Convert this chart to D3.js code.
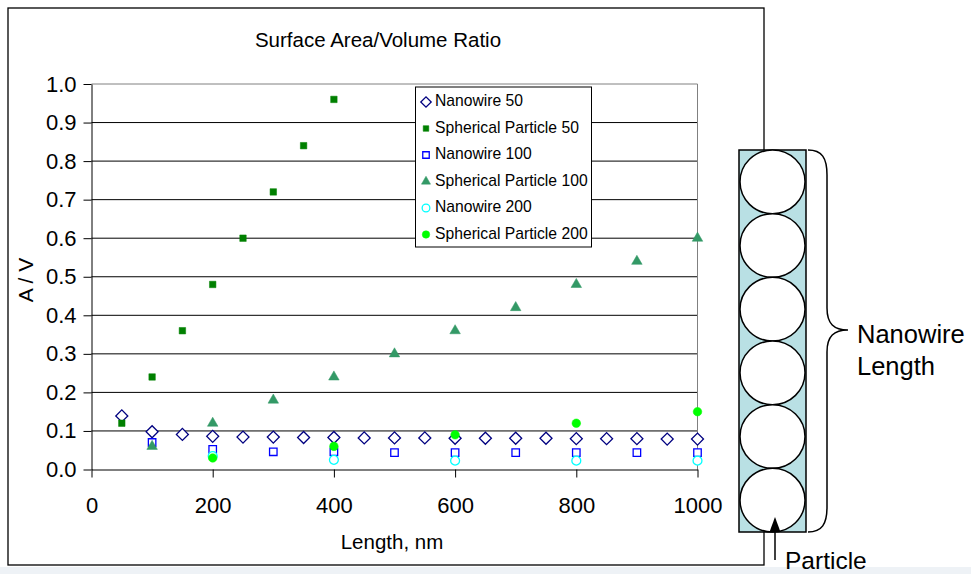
<!DOCTYPE html>
<html><head><meta charset="utf-8">
<script src="https://cdn.jsdelivr.net/npm/d3@7"></script>
<style>body{margin:0;background:#fff}svg{display:block;font-family:"Liberation Sans",Arial,sans-serif}</style>
</head><body>
<svg id="c" width="971" height="574"></svg>
<script>
// ---- data ----
const nw50X = [50,100,150,200,250,300,350,400,450,500,550,600,650,700,750,800,850,900,950,1000];
const nw50Y = [0.139,0.098,0.091,0.086,0.084,0.084,0.083,0.083,0.082,0.082,0.082,0.081,0.081,0.081,0.081,0.080,0.080,0.080,0.079,0.079];
const sp50X = [50,100,150,200,250,300,350,400];
const sp50Y = [0.12,0.24,0.36,0.48,0.60,0.72,0.84,0.96];
const nw100X = [100,200,300,400,500,600,700,800,900,1000];
const nw100Y = [0.070,0.052,0.046,0.046,0.044,0.044,0.044,0.044,0.044,0.044];
const sp100X = [100,200,300,400,500,600,700,800,900,1000];
const sp100Y = [0.06,0.12,0.18,0.24,0.30,0.36,0.42,0.48,0.54,0.60];
const nw200X = [200,400,600,800,1000];
const nw200Y = [0.035,0.025,0.023,0.023,0.023];
const sp200X = [200,400,600,800,1000];
const sp200Y = [0.03,0.06,0.09,0.12,0.15];
const seriesNames = ["Nanowire 50","Spherical Particle 50","Nanowire 100","Spherical Particle 100","Nanowire 200","Spherical Particle 200"];
const xTicks = [0,200,400,600,800,1000];
const yTicks = [0,0.1,0.2,0.3,0.4,0.5,0.6,0.7,0.8,0.9,1.0];

const svg = d3.select("#c");
// bottom light strip
svg.append("rect").attr("x",0).attr("y",567).attr("width",971).attr("height",7).attr("fill","#eef2f6");
// outer frame
svg.append("rect").attr("x",8).attr("y",8).attr("width",756).attr("height",557)
  .attr("fill","#fff").attr("stroke","#000").attr("stroke-width",1.3);

const x = d3.scaleLinear().domain([0,1000]).range([91.5,697.5]);
const y = d3.scaleLinear().domain([0,1]).range([469.5,84]);

// gridlines
svg.append("g").selectAll("line").data(yTicks.filter(v=>v>0)).join("line")
  .attr("x1",x(0)).attr("x2",x(1000)).attr("y1",d=>y(d)).attr("y2",d=>y(d))
  .attr("stroke",d=>d>=1?"#808080":"#000").attr("stroke-width",1);
// plot right border
svg.append("line").attr("x1",x(1000)).attr("x2",x(1000)).attr("y1",y(1)).attr("y2",y(0)).attr("stroke","#808080");

// axes
const ya = svg.append("g").attr("transform",`translate(${x(0)},0)`)
  .call(d3.axisLeft(y).tickValues(yTicks).tickFormat(d3.format(".1f")).tickSize(8).tickPadding(7).tickSizeOuter(0));
const xa = svg.append("g").attr("transform",`translate(0,${y(0)})`)
  .call(d3.axisBottom(x).tickValues(xTicks).tickFormat(d3.format("d")).tickSize(8).tickPadding(20).tickSizeOuter(0));
[ya,xa].forEach(a=>{
  a.select(".domain").attr("stroke","#000");
  a.selectAll(".tick line").attr("stroke","#000");
  a.selectAll("text").attr("font-size",22).attr("fill","#000").attr("font-family","Liberation Sans, Arial, sans-serif");
});

// titles
svg.append("text").attr("x",378).attr("y",47).attr("text-anchor","middle").attr("font-size",20.5).text("Surface Area/Volume Ratio");
svg.append("text").attr("x",392).attr("y",549).attr("text-anchor","middle").attr("font-size",20.5).text("Length, nm");
svg.append("text").attr("transform","translate(33,280) rotate(-90)").attr("text-anchor","middle").attr("font-size",21).text("A / V");

// markers
const markers = [
  {xs:nw50X, ys:nw50Y, sym:d3.symbolSquare, size:72, rot:45, fill:"#fff", stroke:"#000080", sw:1.3},
  {xs:sp50X, ys:sp50Y, sym:d3.symbolSquare, size:42, rot:0, fill:"#008000", stroke:"#008000", sw:0.5},
  {xs:nw100X, ys:nw100Y, sym:d3.symbolSquare, size:56, rot:0, fill:"#fff", stroke:"#0000ff", sw:1.3},
  {xs:sp100X, ys:sp100Y, sym:d3.symbolTriangle, size:48, rot:0, fill:"#339966", stroke:"#339966", sw:0.5},
  {xs:nw200X, ys:nw200Y, sym:d3.symbolCircle, size:62, rot:0, fill:"#fff", stroke:"#00ffff", sw:1.3},
  {xs:sp200X, ys:sp200Y, sym:d3.symbolCircle, size:58, rot:0, fill:"#00ff00", stroke:"#00ff00", sw:0.5}
];
markers.forEach(m=>{
  const pts = m.xs.map((v,i)=>[v,m.ys[i]]);
  svg.append("g").selectAll("path").data(pts).join("path")
    .attr("d", d3.symbol(m.sym, m.size)())
    .attr("transform", d=>`translate(${x(d[0])},${y(d[1])}) rotate(${m.rot})`)
    .attr("fill", m.fill).attr("stroke", m.stroke).attr("stroke-width", m.sw);
});

// legend
const lg = svg.append("g");
lg.append("rect").attr("x",415.5).attr("y",87).attr("width",176).attr("height",160)
  .attr("fill","#fff").attr("stroke","#000").attr("stroke-width",1);
seriesNames.forEach((name,i)=>{
  const m = markers[i];
  const cy = 100 + i*26.5;
  lg.append("path").attr("d", d3.symbol(m.sym, m.size*0.75)())
    .attr("transform",`translate(426,${cy+2}) rotate(${m.rot})`)
    .attr("fill", m.fill).attr("stroke", m.stroke).attr("stroke-width", m.sw);
  lg.append("text").attr("x",435).attr("y",cy+6).attr("font-size",15.7).text(name);
});

// ---- diagram of particles in nanowire ----
const dg = svg.append("g");
const rx0 = 739, rx1 = 806, ry0 = 150, ry1 = 532;
dg.append("rect").attr("x",rx0).attr("y",ry0).attr("width",rx1-rx0).attr("height",ry1-ry0)
  .attr("fill","#b9e0e4").attr("stroke","#000").attr("stroke-width",1.5);
const nC = 6, ch = (ry1-ry0)/nC;
dg.selectAll("ellipse").data(d3.range(nC)).join("ellipse")
  .attr("cx",(rx0+rx1)/2).attr("cy",d=>ry0+ch*(d+0.5)).attr("rx",32.5).attr("ry",ch/2)
  .attr("fill","#fff").attr("stroke","#000").attr("stroke-width",1.5);
// brace
dg.append("path").attr("d","M808,150 C822,150 827,158 827,175 L827,308 C827,324 834,330 848,330 C834,330 827,336 827,352 L827,507 C827,524 822,532 808,532")
  .attr("fill","none").attr("stroke","#000").attr("stroke-width",1.5);
svg.append("text").attr("x",857).attr("y",343).attr("font-size",25.5).text("Nanowire");
svg.append("text").attr("x",857).attr("y",375).attr("font-size",25.5).text("Length");
// arrow
dg.append("line").attr("x1",775).attr("x2",775).attr("y1",528).attr("y2",560).attr("stroke","#000").attr("stroke-width",1.5);
dg.append("path").attr("d","M775,517 L780.5,532 L769.5,532 Z").attr("fill","#000");
svg.append("text").attr("x",785).attr("y",569).attr("font-size",24.5).text("Particle");
</script>
</body></html>
